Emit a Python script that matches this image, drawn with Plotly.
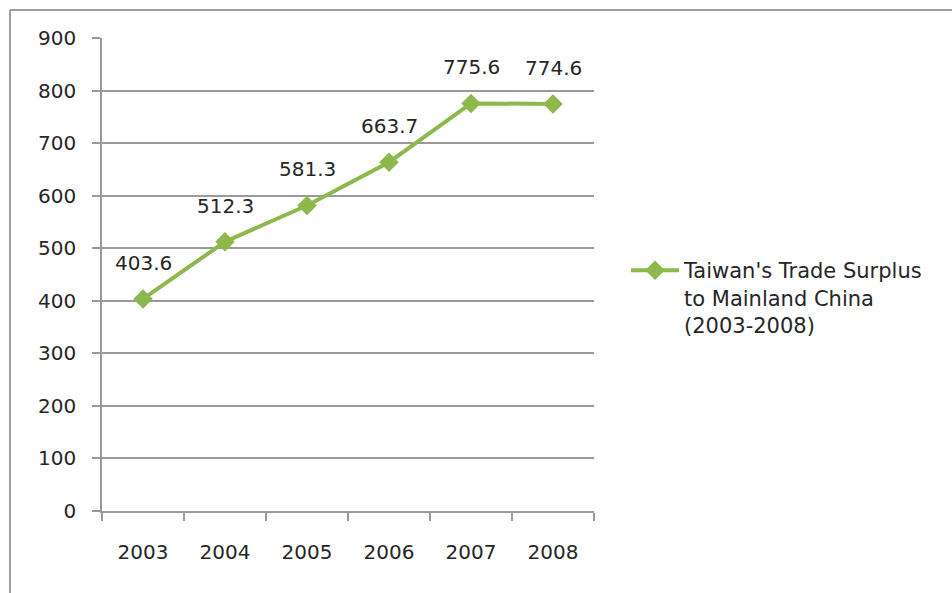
import plotly.graph_objects as go

years = ["2003", "2004", "2005", "2006", "2007", "2008"]
surplus = [403.6, 512.3, 581.3, 663.7, 775.6, 774.6]
series_name = "Taiwan's Trade Surplus<br>to Mainland China<br>(2003-2008)"
y_ticks = [0, 100, 200, 300, 400, 500, 600, 700, 800, 900]

W, H = 952, 593
GREEN = "#8cb84c"
GRID = "#9a9a9a"
FONT = "DejaVu Sans"
TXT = "#262626"

fig = go.Figure()
fig.add_trace(go.Scatter(
    x=years, y=surplus, mode="lines+markers", name=series_name,
    line=dict(color=GREEN, width=4),
    marker=dict(symbol="diamond", size=15, color=GREEN),
    showlegend=True,
))

for i, v in enumerate(surplus):
    fig.add_annotation(x=i, y=v, text=f"{v:.1f}", showarrow=False,
                       yshift=36, font=dict(family=FONT, size=20, color=TXT))

fig.update_layout(
    width=W, height=H,
    margin=dict(l=0, r=0, t=0, b=0, autoexpand=False),
    paper_bgcolor="white", plot_bgcolor="white",
    font=dict(family=FONT, size=20, color=TXT),
    xaxis=dict(domain=[102 / W, 594 / W], type="category",
               range=[-0.5, len(years) - 0.5], automargin=False,
               tickson="boundaries", ticks="outside", ticklen=8,
               tickcolor=GRID, tickwidth=1.5,
               showline=True, linecolor=GRID, linewidth=1.5,
               showgrid=False, ticklabelstandoff=22,
               tickfont=dict(size=20, color=TXT)),
    yaxis=dict(domain=[(H - 511) / H, (H - 38) / H], range=[0, 900],
               automargin=False,
               tickvals=y_ticks, ticks="outside", ticklen=8,
               tickcolor=GRID, tickwidth=1.5,
               showline=True, linecolor=GRID, linewidth=1.5,
               showgrid=True, gridcolor=GRID, gridwidth=1.5,
               zeroline=False, ticklabelstandoff=12,
               tickfont=dict(size=20, color=TXT)),
    legend=dict(x=626 / W, y=1 - 250 / H, xanchor="left", yanchor="top",
                font=dict(family=FONT, size=21, color=TXT),
                valign="top", itemwidth=48,
                bgcolor="rgba(0,0,0,0)", tracegroupgap=0),
    shapes=[
        dict(type="line", xref="paper", yref="paper",
             x0=10 / W, x1=1, y0=1 - 10 / H, y1=1 - 10 / H,
             line=dict(color="#a0a0a0", width=2)),
        dict(type="line", xref="paper", yref="paper",
             x0=10 / W, x1=10 / W, y0=0, y1=1 - 10 / H,
             line=dict(color="#a0a0a0", width=2)),
    ],
)

fig.write_html("out.html")
